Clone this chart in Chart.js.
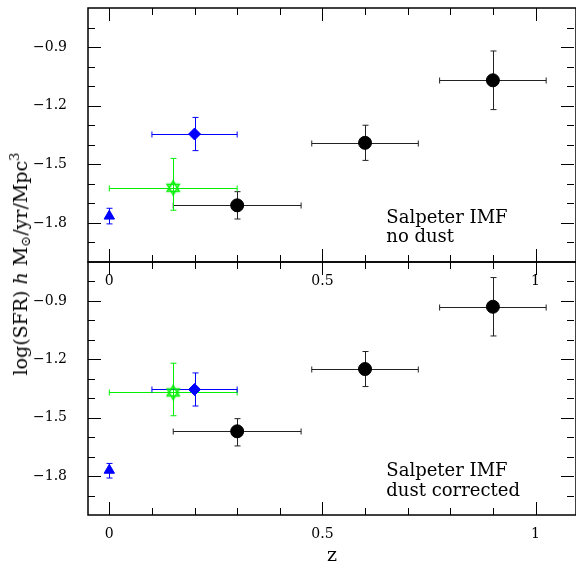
<!DOCTYPE html>
<html lang="en">
<head>
  <meta charset="UTF-8">
  <title>SFR density vs z</title>
  <script src="https://cdn.jsdelivr.net/npm/chart.js"></script>
  <style>
    body {
      margin: 0;
      background: #fff;
    }

    .wrap {
      position: relative;
      width: 576px;
      height: 567px;
      overflow: hidden;
    }

    .wrap canvas {
      position: absolute;
      left: 0;
      top: 0;
    }

    #topChart { z-index: 2; }
    #bottomChart { z-index: 1; }

    /* y title spans both panels */
    .ylabel {
      position: absolute;
      left: 20px;
      top: 264px;
      transform: translate(-50%, -50%) rotate(-90deg);
      white-space: nowrap;
      font-family: 'DejaVu Serif', serif;
      font-size: 19px;
      color: #000;
      z-index: 3;
    }
    .ylabel sub { font-size: 13px; vertical-align: -3px; }
    .ylabel sup { font-size: 13px; vertical-align: 8px; }
  </style>
</head>
<body>

  <div class="wrap">
    <canvas id="bottomChart" width="576" height="567"></canvas>
    <canvas id="topChart" width="576" height="300"></canvas>
    <div class="ylabel">log(SFR) <i>h</i> M<sub>⊙</sub>/yr/Mpc<sup>3</sup></div>
  </div>

  <script>
    // ---- axis setup ----
    const zRange = [-0.05, 1.095];
    const sfrRange = [-2.0, -0.7];
    const zTicks = [0, 0.5, 1];
    const sfrTicks = [-1.8, -1.5, -1.2, -0.9];

    // ---- black circles ----
    const circleZ = [0.3, 0.6, 0.9];
    const circleZLow = [0.15, 0.475, 0.775];
    const circleZHigh = [0.45, 0.725, 1.025];
    const circleTop = [-1.71, -1.39, -1.07];
    const circleTopLow = [-1.78, -1.48, -1.22];
    const circleTopHigh = [-1.64, -1.30, -0.92];
    const circleBottom = [-1.57, -1.25, -0.93];
    const circleBottomLow = [-1.645, -1.34, -1.08];
    const circleBottomHigh = [-1.505, -1.16, -0.78];

    // ---- blue diamond ----
    const diamondZ = [0.2];
    const diamondZLow = [0.1];
    const diamondZHigh = [0.3];
    const diamondTop = [-1.345];
    const diamondTopLow = [-1.43];
    const diamondTopHigh = [-1.26];
    const diamondBottom = [-1.355];
    const diamondBottomLow = [-1.44];
    const diamondBottomHigh = [-1.27];

    // ---- green star ----
    const starZ = [0.15];
    const starZLow = [0.0];
    const starZHigh = [0.3];
    const starTop = [-1.62];
    const starTopLow = [-1.735];
    const starTopHigh = [-1.47];
    const starBottom = [-1.37];
    const starBottomLow = [-1.49];
    const starBottomHigh = [-1.22];

    // ---- blue triangle ----
    const triZ = [0];
    const triTop = [-1.765];
    const triTopLow = [-1.805];
    const triTopHigh = [-1.725];
    const triBottom = [-1.77];
    const triBottomLow = [-1.81];
    const triBottomHigh = [-1.735];

    // ---- panel notes ----
    const noteZ = 0.65;
    const noteSfr = [-1.8, -1.9];
    const topNotes = ['Salpeter IMF', 'no dust'];
    const bottomNotes = ['Salpeter IMF', 'dust corrected'];

    const serif = "'DejaVu Serif', serif";

    // open hexagram marker
    function hexagram(color) {
      const c = document.createElement('canvas');
      c.width = 18; c.height = 18;
      const g = c.getContext('2d');
      g.strokeStyle = color;
      g.lineWidth = 1.5;
      const r = 7, cx = 9, cy = 9;
      [-Math.PI / 2, Math.PI / 2].forEach(start => {
        g.beginPath();
        for (let k = 0; k < 3; k++) {
          const a = start + k * 2 * Math.PI / 3;
          const px = cx + r * Math.cos(a), py = cy + r * Math.sin(a);
          k === 0 ? g.moveTo(px, py) : g.lineTo(px, py);
        }
        g.closePath();
        g.stroke();
      });
      return c;
    }
    const greenStar = hexagram('#00f000');

    function points(zs, ys, zLo, zHi, yLo, yHi) {
      return zs.map((z, i) => ({
        x: z, y: ys[i],
        xMin: zLo ? zLo[i] : null, xMax: zHi ? zHi[i] : null,
        yMin: yLo[i], yMax: yHi[i]
      }));
    }

    function panelDatasets(isTop) {
      return [
        {
          label: 'circles',
          data: points(circleZ, isTop ? circleTop : circleBottom, circleZLow, circleZHigh,
            isTop ? circleTopLow : circleBottomLow, isTop ? circleTopHigh : circleBottomHigh),
          pointStyle: 'circle', pointRadius: 6.5,
          backgroundColor: '#000', borderColor: '#000', errColor: '#222'
        },
        {
          label: 'star',
          data: points(starZ, isTop ? starTop : starBottom, starZLow, starZHigh,
            isTop ? starTopLow : starBottomLow, isTop ? starTopHigh : starBottomHigh),
          pointStyle: greenStar, pointRadius: 7,
          backgroundColor: '#00f000', borderColor: '#00f000', errColor: '#00f000'
        },
        {
          label: 'diamond',
          data: points(diamondZ, isTop ? diamondTop : diamondBottom, diamondZLow, diamondZHigh,
            isTop ? diamondTopLow : diamondBottomLow, isTop ? diamondTopHigh : diamondBottomHigh),
          pointStyle: 'rectRot', pointRadius: 6,
          backgroundColor: '#0000ff', borderColor: '#0000ff', errColor: '#0000ff'
        },
        {
          label: 'triangle',
          data: points(triZ, isTop ? triTop : triBottom, null, null,
            isTop ? triTopLow : triBottomLow, isTop ? triTopHigh : triBottomHigh),
          pointStyle: 'triangle', pointRadius: 6,
          backgroundColor: '#0000ff', borderColor: '#0000ff', errColor: '#0000ff'
        }
      ];
    }

    // error bars, frame, inward ticks and notes
    const panelPlugin = {
      id: 'panel',
      beforeDatasetsDraw(chart) {
        const { ctx, scales: { x, y } } = chart;
        ctx.save();
        ctx.lineWidth = 1;
        chart.data.datasets.forEach(ds => {
          ctx.strokeStyle = ds.errColor;
          ctx.beginPath();
          ds.data.forEach(p => {
            const px = Math.round(x.getPixelForValue(p.x)) + 0.5;
            const py = Math.round(y.getPixelForValue(p.y)) + 0.5;
            if (p.yMin != null) {
              const y1 = y.getPixelForValue(p.yMin), y2 = y.getPixelForValue(p.yMax);
              ctx.moveTo(px, y1); ctx.lineTo(px, y2);
              ctx.moveTo(px - 3, y1); ctx.lineTo(px + 3, y1);
              ctx.moveTo(px - 3, y2); ctx.lineTo(px + 3, y2);
            }
            if (p.xMin != null) {
              const x1 = x.getPixelForValue(p.xMin), x2 = x.getPixelForValue(p.xMax);
              ctx.moveTo(x1, py); ctx.lineTo(x2, py);
              ctx.moveTo(x1, py - 3); ctx.lineTo(x1, py + 3);
              ctx.moveTo(x2, py - 3); ctx.lineTo(x2, py + 3);
            }
          });
          ctx.stroke();
        });
        ctx.restore();
      },
      afterDraw(chart, args, opts) {
        const { ctx, chartArea: a, scales: { x, y } } = chart;
        ctx.save();
        ctx.strokeStyle = '#000';
        ctx.lineWidth = 1;
        ctx.beginPath();
        for (let k = 0; k <= 10; k++) {
          const px = Math.round(x.getPixelForValue(k / 10)) + 0.5;
          const len = k % 5 === 0 ? 13 : 7;
          ctx.moveTo(px, a.bottom); ctx.lineTo(px, a.bottom - len);
          ctx.moveTo(px, a.top); ctx.lineTo(px, a.top + len);
        }
        for (let k = -19; k <= -8; k++) {
          const py = Math.round(y.getPixelForValue(k / 10)) + 0.5;
          const len = k % 3 === 0 ? 13 : 7;
          ctx.moveTo(a.left, py); ctx.lineTo(a.left + len, py);
          ctx.moveTo(a.right - 2, py); ctx.lineTo(a.right - 2 - len, py);
        }
        ctx.stroke();
        ctx.lineWidth = 1.5;
        ctx.strokeRect(a.left, a.top, a.width, a.height);

        ctx.fillStyle = '#000';
        ctx.font = '18px ' + serif;
        ctx.textBaseline = 'alphabetic';
        ctx.textAlign = 'left';
        opts.notes.forEach((t, i) => {
          ctx.fillText(t, x.getPixelForValue(noteZ), y.getPixelForValue(noteSfr[i]));
        });
        ctx.restore();
      }
    };

    const fmt = v => (v < 0 ? '\u2212' : '') + Math.abs(v);

    function makePanel(id, isTop) {
      return new Chart(document.getElementById(id), {
        type: 'scatter',
        data: { datasets: panelDatasets(isTop) },
        plugins: [panelPlugin],
        options: {
          responsive: false,
          animation: false,
          devicePixelRatio: 1,
          layout: { autoPadding: false, padding: { top: isTop ? 8 : 262, left: 0, right: 0, bottom: 0 } },
          plugins: {
            legend: { display: false },
            tooltip: { enabled: false },
            panel: { notes: isTop ? topNotes : bottomNotes }
          },
          scales: {
            x: {
              type: 'linear',
              min: zRange[0], max: zRange[1],
              afterBuildTicks: s => { s.ticks = zTicks.map(v => ({ value: v })); },
              afterFit: s => {
                s.height = isTop ? 38 : 52;
                s.paddingLeft = 0; s.paddingRight = 0;
              },
              grid: { display: false, drawTicks: false },
              border: { display: false },
              ticks: { color: '#000', padding: 11, maxRotation: 0, font: { family: serif, size: 14 }, callback: fmt },
              title: {
                display: !isTop, text: 'z', color: '#000',
                font: { family: serif, size: 19 }, padding: { top: 0, bottom: 0 }
              }
            },
            y: {
              type: 'linear',
              min: sfrRange[0], max: sfrRange[1],
              afterBuildTicks: s => { s.ticks = sfrTicks.map(v => ({ value: v })); },
              afterFit: s => {
                s.width = 88;
                s.paddingTop = 0; s.paddingBottom = 0;
              },
              grid: { display: false, drawTicks: false },
              border: { display: false },
              ticks: { color: '#000', padding: 21, font: { family: serif, size: 14 }, callback: fmt }
            }
          }
        }
      });
    }

    makePanel('bottomChart', false);
    makePanel('topChart', true);
  </script>

</body>
</html>
